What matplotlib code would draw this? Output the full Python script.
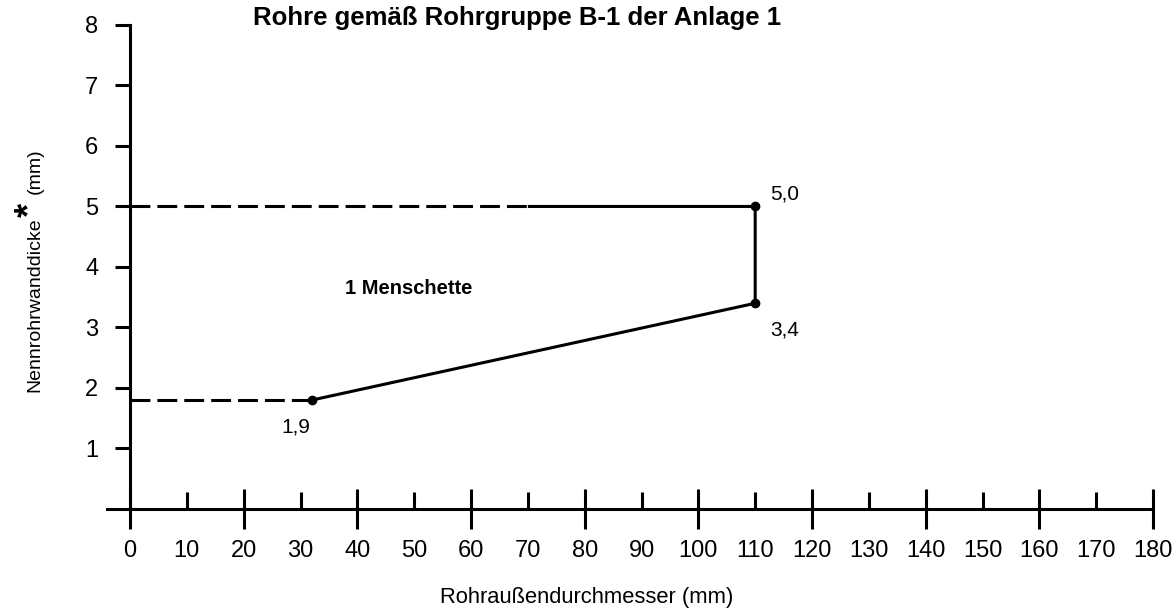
import matplotlib
matplotlib.use("Agg")
import matplotlib.pyplot as plt

plt.rcParams["font.family"] = ["Liberation Sans", "DejaVu Sans"]
TICKFONT = ["Liberation Sans Narrow", "Liberation Sans", "DejaVu Sans"]

# Daten
linie_x = [32, 110, 110, 70]
linie_y = [1.8, 3.4, 5.0, 5.0]
punkte_x = [32, 110, 110]
punkte_y = [1.8, 3.4, 5.0]
punkt_labels = ["1,9", "3,4", "5,0"]
punkt_offsets = [(-11.5, -19.5), (21, -19), (21, 9)]
gestrichelt_unten_x = [0, 32]
gestrichelt_unten_y = [1.8, 1.8]
gestrichelt_oben_x = [0, 70]
gestrichelt_oben_y = [5.0, 5.0]
x_ticks = list(range(0, 181, 20))
x_minor = list(range(10, 180, 20))
y_ticks = [1, 2, 3, 4, 5, 6, 7, 8]

fig = plt.figure(figsize=(11.72, 6.09), dpi=100)
ax = fig.add_axes([0.0867, 0.0649, 0.9068, 0.914])
ax.set_xlim(-5, 182)
ax.set_ylim(-1, 8.2)

lw = 2.2
ax.plot(linie_x, linie_y, color="black", lw=lw, solid_capstyle="butt")
ax.plot(punkte_x, punkte_y, "o", color="black", ms=6)
for xs, ys in [(gestrichelt_unten_x, gestrichelt_unten_y), (gestrichelt_oben_x, gestrichelt_oben_y)]:
    ax.plot(xs, ys, color="black", lw=lw, dashes=(6.5, 2.3))

for x, y, txt, off in zip(punkte_x, punkte_y, punkt_labels, punkt_offsets):
    ax.annotate(txt, (x, y), xytext=off, textcoords="offset points",
                ha="center", va="center", fontsize=15, family=TICKFONT)

ax.text(49, 3.65, "1 Menschette", ha="center", va="center", fontsize=14.5, fontweight="bold")

# Achsen
for s in ["top", "right"]:
    ax.spines[s].set_visible(False)
ax.spines["bottom"].set_position(("data", 0))
ax.spines["left"].set_position(("data", 0))
ax.spines["bottom"].set_bounds(-4, 180)
ax.spines["left"].set_bounds(0, 8)
ax.spines["bottom"].set_linewidth(lw)
ax.spines["left"].set_linewidth(lw)

ax.set_xticks(x_ticks)
ax.set_xticklabels([str(v) for v in x_ticks], family=TICKFONT)
ax.set_xticks(x_minor, minor=True)
ax.set_xticklabels([str(v) for v in x_minor], minor=True, family=TICKFONT)
ax.tick_params(axis="x", which="major", direction="inout", length=28.8, width=lw,
               labelsize=17, pad=8)
ax.tick_params(axis="x", which="minor", direction="in", length=12.5, width=lw,
               labelsize=17, pad=8 + 14.4)
ax.set_yticks(y_ticks)
ax.set_yticklabels([str(v) for v in y_ticks], family=TICKFONT)
ax.tick_params(axis="y", which="major", direction="out", length=10.8, width=lw,
               labelsize=17, pad=12)

fig.text(587 / 1172, 1 - 597 / 609, "Rohraußendurchmesser (mm)", ha="center", va="center", fontsize=15.8)

# y-Beschriftung mit grossem Stern
t1 = fig.text(35 / 1172, 1 - 392 / 609, "Nennrohrwanddicke", ha="center", va="bottom",
              rotation=90, fontsize=14)
ax.annotate("*", xy=(0.0, 1.0), xycoords=t1, xytext=(3, 0.5), textcoords="offset points",
            rotation=90, fontsize=26, fontweight="bold", ha="center", va="bottom",
            annotation_clip=False)
ax.annotate("(mm)", xy=(0.5, 1.0), xycoords=t1, xytext=(0, 17), textcoords="offset points",
            rotation=90, fontsize=14, ha="center", va="bottom", annotation_clip=False)

fig.text(517 / 1172, 1 - 18 / 609, "Rohre gemäß Rohrgruppe B-1 der Anlage 1", ha="center",
         va="center", fontsize=18.5, fontweight="bold")

fig.savefig("out.png", dpi=100)
